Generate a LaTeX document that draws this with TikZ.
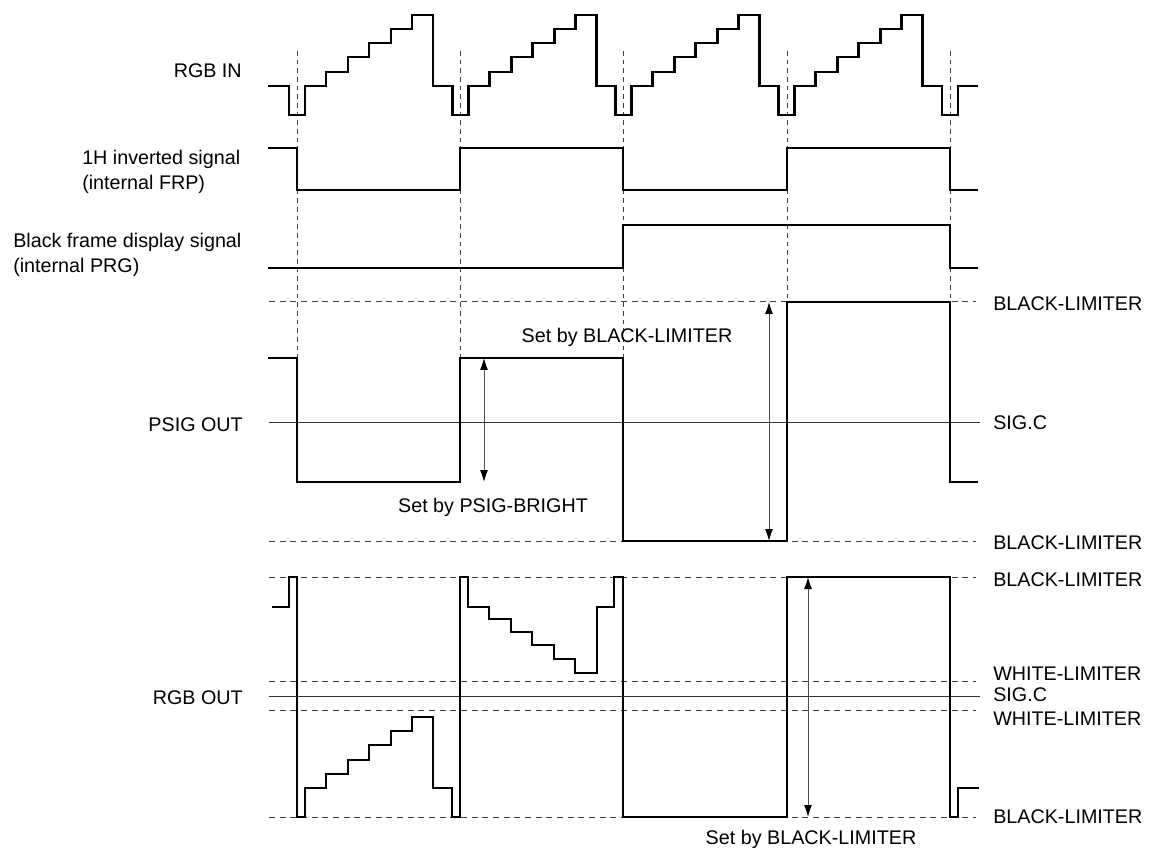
\documentclass[tikz,border=0pt]{standalone}
\usepackage{fontspec}
\setmainfont{Liberation Sans}
\usetikzlibrary{arrows.meta}

\begin{document}
\begin{tikzpicture}[x=0.75pt,y=-0.75pt,
	font=\fontsize{14.8}{18.5}\selectfont,
	wave/.style={line width=2.2pt,line join=miter},
	guide/.style={black!75,line width=0.75pt,dash pattern=on 3.5pt off 3pt},
	limit/.style={black!75,line width=0.75pt,dash pattern=on 4.5pt off 3.5pt},
	level/.style={black!80,line width=0.75pt},
	dim/.style={black!70,line width=0.75pt,{Latex[length=9pt,width=6pt,color=black]}-{Latex[length=9pt,width=6pt,color=black]}},
	lbl/.style={inner sep=0pt}]

	\useasboundingbox (0,0) rectangle (1150,852);

	% timing guides
	\foreach \x in {297,460,623}
		\draw[guide] (\x,51) -- (\x,358);
	\foreach \x in {787,950}
		\draw[guide] (\x,51) -- (\x,302);

	% limiter levels
	\foreach \y in {302,541,577,681,710,817}
		\draw[limit] (269,\y) -- (976,\y);
	\foreach \y in {422,696}
		\draw[level] (269,\y) -- (980,\y);

	% RGB IN
	\draw[wave] (268,86) foreach \x in {297,460.25,623.5,786.75} {
			-- (\x-8,86) -- (\x-8,115) -- (\x+8,115) -- (\x+8,86) -- (\x+29,86)
			|- (\x+51,72) |- (\x+72,57) |- (\x+94,43) |- (\x+115,29) |- (\x+136,15)
			-- (\x+136,86)
		} -- (942,86) -- (942,115) -- (958,115) -- (958,86) -- (978,86);

	% FRP and PRG
	\draw[wave] (268,148) -| (297,190) -| (460,148) -| (623,190) -| (787,148) -| (950,190) -- (978,190);
	\draw[wave] (268,268) -| (623,225) -| (950,268) -- (978,268);

	% PSIG OUT
	\draw[wave] (268,358) -| (297,482) -| (460,358) -| (623,541) -| (787,302) -| (950,482) -- (978,482);

	% RGB OUT
	\draw[wave] (272,607) -| (289,577) -| (297,817) -| (305,788)
		-| (326,774) -| (348,760) -| (369,745) -| (391,731) -| (412,717) -| (433,788)
		-| (452,817) -| (460,577) -| (468,607)
		-| (489,619) -| (511,632) -| (532,645) -| (554,659) -| (575,673) -| (597,607)
		-| (614,577) -| (623,817) -| (787,577) -| (950,817) -| (958,788) -- (979,788);

	% setting ranges
	\coordinate (bright hi) at (484,358);
	\coordinate (bright lo) at (484,482);
	\coordinate (psig hi) at (769,302);
	\coordinate (psig lo) at (769,541);
	\coordinate (out hi) at (808,577);
	\coordinate (out lo) at (808,817);
	\draw[dim] (bright hi) -- (bright lo);
	\draw[dim] (psig hi) -- (psig lo);
	\draw[dim] (out hi) -- (out lo);

	\node[lbl] (set bright) at (493,507) {Set by PSIG-BRIGHT};
	\node[lbl] (set psig) at (627,337) {Set by BLACK-LIMITER};
	\node[lbl] (set out) at (811,839) {Set by BLACK-LIMITER};

	% signal names
	\node[lbl,anchor=east] (rgb in) at (242,71) {RGB IN};
	\node[lbl,anchor=north west,align=left] (frp) at (82,150) {1H inverted signal\\(internal FRP)};
	\node[lbl,anchor=north west,align=left] (prg) at (13,233) {Black frame display signal\\(internal PRG)};
	\node[lbl,anchor=east] (psig out) at (243,425) {PSIG OUT};
	\node[lbl,anchor=east] (rgb out) at (243,698) {RGB OUT};

	% level names
	\node[lbl,anchor=west] (psig bl hi) at (993,304) {BLACK-LIMITER};
	\node[lbl,anchor=west] (psig sigc) at (993,423) {SIG.C};
	\node[lbl,anchor=west] (psig bl lo) at (993,543) {BLACK-LIMITER};
	\node[lbl,anchor=west] (out bl hi) at (993,580) {BLACK-LIMITER};
	\node[lbl,anchor=west] (out wl hi) at (993,674) {WHITE-LIMITER};
	\node[lbl,anchor=west] (out sigc) at (993,695) {SIG.C};
	\node[lbl,anchor=west] (out wl lo) at (993,719) {WHITE-LIMITER};
	\node[lbl,anchor=west] (out bl lo) at (993,817) {BLACK-LIMITER};

\end{tikzpicture}
\end{document}
